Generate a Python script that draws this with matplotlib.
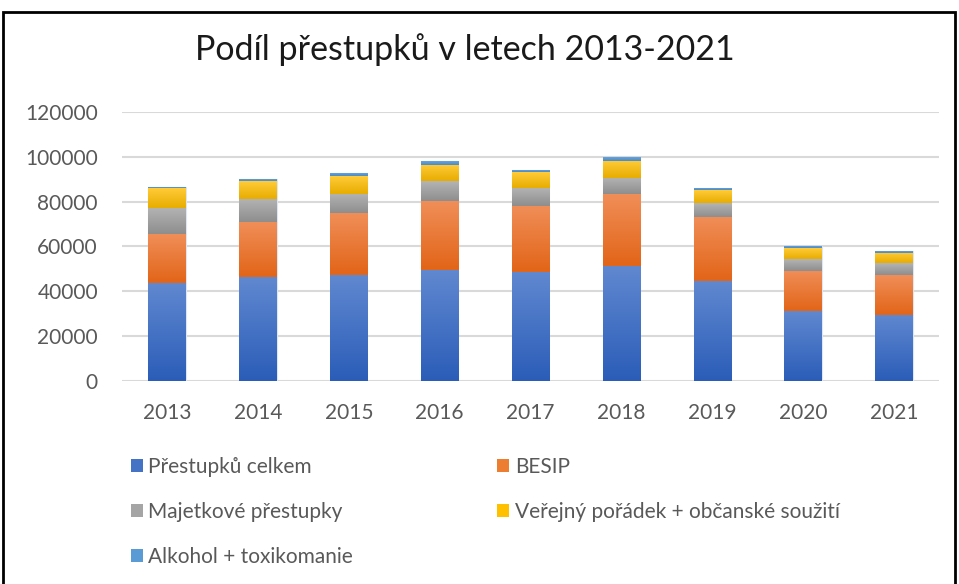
import matplotlib
matplotlib.use("Agg")
import matplotlib.pyplot as plt
import numpy as np
from matplotlib.colors import LinearSegmentedColormap
from matplotlib.patches import Rectangle, Patch

years = ["2013", "2014", "2015", "2016", "2017", "2018", "2019", "2020", "2021"]
prestupku_celkem = [43750, 46200, 47200, 49550, 48400, 51350, 44400, 31100, 29500]
besip = [21700, 24500, 27500, 30800, 29700, 32000, 28700, 17900, 17700]
majetkove = [11900, 10300, 8600, 8650, 8050, 7300, 6250, 5200, 5200]
verejny = [8750, 8000, 8000, 7400, 6900, 7600, 5650, 4900, 4500]
alkohol = [600, 1200, 1650, 1800, 1150, 1800, 1150, 1150, 1150]

series = [
    ("Přestupků celkem", prestupku_celkem, "#4472C4", "#6088D0", "#2B5DB8"),
    ("BESIP", besip, "#ED7D31", "#F08E58", "#E26518"),
    ("Majetkové přestupky", majetkove, "#A5A5A5", "#B4B4B4", "#8E8E8E"),
    ("Veřejný pořádek + občanské soužití", verejny, "#FFC000", "#FFCB38", "#E8AD00"),
    ("Alkohol + toxikomanie", alkohol, "#5B9BD5", "#6FA8DC", "#4A8BC8"),
]

W, H = 959, 584
fig = plt.figure(figsize=(W / 100, H / 100), dpi=100)
fig.patch.set_facecolor("white")

font = ["Lato", "DejaVu Sans"]
tc = "#595959"
fs = 15

ax = fig.add_axes([121.6 / W, (H - 380.7) / H, (939.4 - 121.6) / W, (380.7 - 112.0) / H])
x = np.arange(len(years))
bottom = np.zeros(len(years))
handles = []
for name, vals, col, ctop, cbot in series:
    vals = np.array(vals, dtype=float)
    bars = ax.bar(x, vals, bottom=bottom, width=0.41, color=col, edgecolor="#DCE6F4",
                  linewidth=0.8, zorder=3)
    cmap = LinearSegmentedColormap.from_list("g", [cbot, ctop])
    grad = np.linspace(0, 1, 64).reshape(-1, 1)
    for p in bars:
        bx, by = p.get_x(), p.get_y()
        bw, bh = p.get_width(), p.get_height()
        im = ax.imshow(grad, cmap=cmap, origin="lower", aspect="auto",
                       extent=(bx, bx + bw, by, by + bh), zorder=3.5)
        im.set_clip_path(p)
    bottom += vals
    handles.append(Patch(facecolor=col, label=name))

ax.set_xlim(-0.5, len(years) - 0.5)
ax.set_ylim(0, 120000)
ax.set_yticks(np.arange(0, 120001, 20000))
ax.set_yticklabels([str(v) for v in range(0, 120001, 20000)], fontsize=fs,
                   color=tc, family=font)
ax.set_xticks(x)
ax.set_xticklabels(years, fontsize=fs, color=tc, family=font)
ax.tick_params(axis="both", length=0)
ax.tick_params(axis="y", pad=17)
ax.tick_params(axis="x", pad=16)
ax.grid(axis="y", color="#D9D9D9", linewidth=1.5, zorder=0)
for s in ax.spines.values():
    s.set_visible(False)
ax.set_facecolor("none")

fig.text(465 / W, 1 - 50 / H, "Podíl přestupků v letech 2013-2021", ha="center",
         va="center", fontsize=24.5, color="#1A1A1A", family=font)

order = [0, 2, 4, 1, 3]
leg = fig.legend([handles[i] for i in order], [handles[i].get_label() for i in order],
                 ncol=2, loc="upper left", bbox_to_anchor=(112 / W, 1 - 438 / H),
                 frameon=False, prop={"family": font, "size": fs},
                 handlelength=0.6, handleheight=0.6, handletextpad=0.25,
                 columnspacing=6.9, labelspacing=1.2)
for t in leg.get_texts():
    t.set_color(tc)

fig.add_artist(Rectangle((3 / W, -0.05), (955 - 3) / W, 1 - 12 / H + 0.05,
                         transform=fig.transFigure, fill=False, edgecolor="black",
                         linewidth=2))

fig.savefig("out.png", dpi=100)
